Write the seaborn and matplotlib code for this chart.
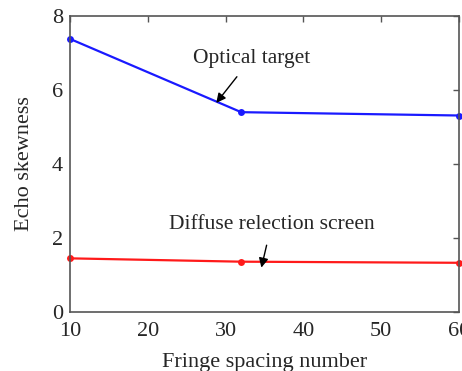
import matplotlib
matplotlib.use("Agg")
import matplotlib.pyplot as plt
import seaborn as sns
import pandas as pd

x_vals = [10, 32, 60]
optical = [7.38, 5.40, 5.31]
diffuse = [1.45, 1.36, 1.33]
x_ticks = [10, 20, 30, 40, 50, 60]
y_ticks = [0, 2, 4, 6, 8]

sns.set_style("white")
plt.rcParams['font.family'] = ['Liberation Serif', 'DejaVu Serif']

df = pd.DataFrame({
    "x": x_vals * 2,
    "y": optical + diffuse,
    "series": ["Optical target"] * 3 + ["Diffuse relection screen"] * 3,
})

fig = plt.figure(figsize=(4.62, 3.71), dpi=100)
ax = fig.add_axes([0.1515, 0.159, 0.842, 0.798])
sns.lineplot(data=df, x="x", y="y", hue="series",
             palette={"Optical target": "#1a1aff", "Diffuse relection screen": "#ff1a1a"},
             marker="o", markersize=5, markeredgewidth=0, linewidth=1.6,
             legend=False, ax=ax)
for l in ax.lines:
    l.set_clip_on(False)

ax.set_xlim(10, 60)
ax.set_ylim(0, 8)
ax.set_xticks(x_ticks)
ax.set_yticks(y_ticks)
ax.tick_params(direction="in", length=4, top=True, right=True, labelsize=16,
               color="#555555", width=1)
ax.tick_params(axis="x", pad=7)
ax.tick_params(axis="y", pad=5)
for s in ax.spines.values():
    s.set_color("#555555")
    s.set_linewidth(1.2)
ax.set_xlabel("Fringe spacing number", fontsize=16, labelpad=9)
ax.set_ylabel("Echo skewness", fontsize=16, labelpad=13)

ax.annotate("Optical target", xy=(28.8, 5.65), xytext=(33.3, 6.85),
            fontsize=15.5, ha="center", va="center",
            arrowprops=dict(arrowstyle="-|>", color="black", lw=1, shrinkA=5, shrinkB=0,
                            mutation_scale=14))
ax.annotate("Diffuse relection screen", xy=(34.6, 1.2), xytext=(35.9, 2.37),
            fontsize=15.5, ha="center", va="center",
            arrowprops=dict(arrowstyle="-|>", color="black", lw=1, shrinkA=6, shrinkB=0,
                            mutation_scale=14))

fig.savefig("out.png", dpi=100)
